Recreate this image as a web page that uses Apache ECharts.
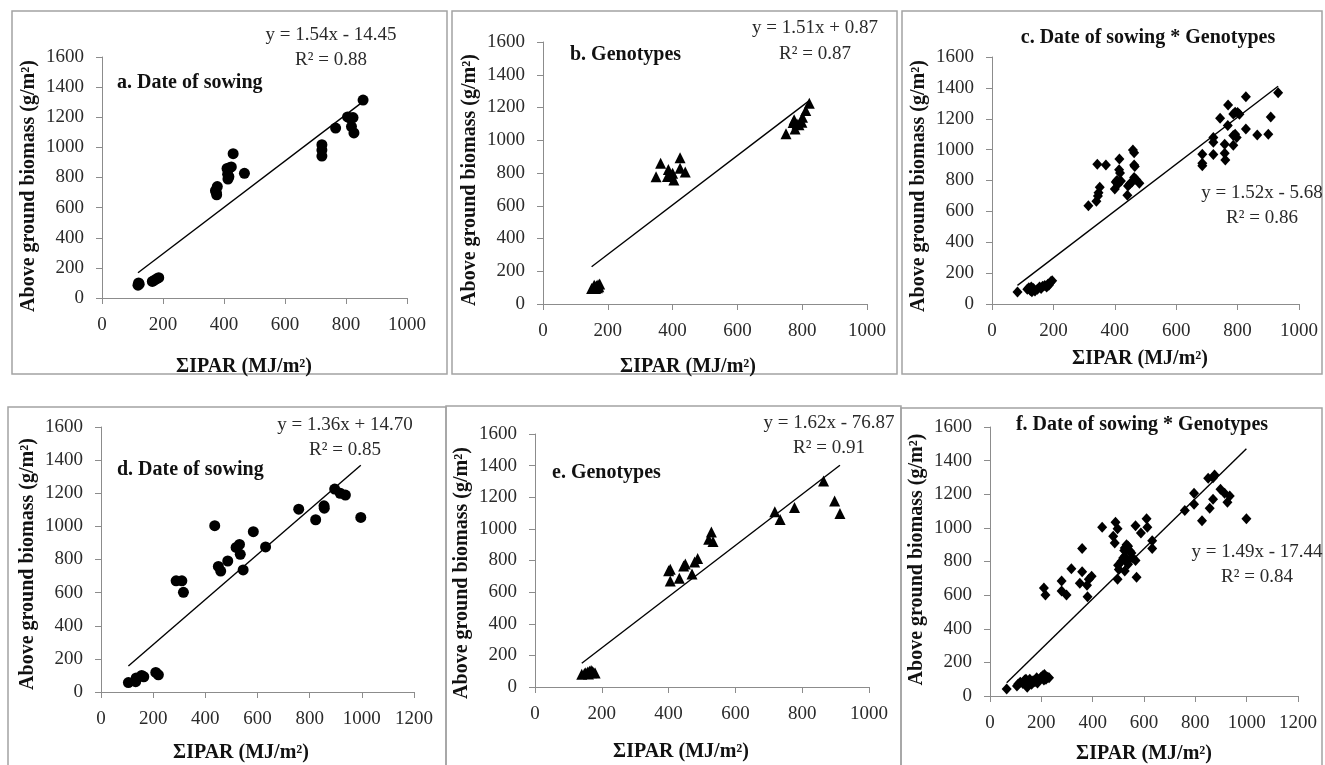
<!DOCTYPE html>
<html><head><meta charset="utf-8">
<script src="https://cdn.jsdelivr.net/npm/echarts@6/dist/echarts.min.js"></script>
<style>html,body{margin:0;padding:0;background:#fff}#c{width:1325px;height:765px}</style>
</head><body><div id="c"></div>
<script>
// ---------- DATA ----------
const yTickValues = [0, 200, 400, 600, 800, 1000, 1200, 1400, 1600];
const xMaxes = [1000, 1000, 1000, 1200, 1000, 1200];
const panelTitles = ['a. Date of sowing', 'b. Genotypes', 'c. Date of sowing * Genotypes',
                     'd. Date of sowing', 'e. Genotypes', 'f. Date of sowing * Genotypes'];
const trendSlopes = [1.54, 1.51, 1.52, 1.36, 1.62, 1.49];
const trendIntercepts = [-14.45, 0.87, -5.68, 14.70, -76.87, -17.44];
const equationLabels = ['y = 1.54x - 14.45', 'y = 1.51x + 0.87', 'y = 1.52x - 5.68',
                        'y = 1.36x + 14.70', 'y = 1.62x - 76.87', 'y = 1.49x - 17.44'];
const r2Labels = ['R² = 0.88', 'R² = 0.87', 'R² = 0.86', 'R² = 0.85', 'R² = 0.91', 'R² = 0.84'];
const xAxisTitle = 'ΣIPAR (MJ/m²)';
const yAxisTitle = 'Above ground biomass (g/m²)';

const panelAPoints = [
  [118,85],[120,100],[122,92],[165,110],[172,118],[180,128],[186,135],
  [372,712],[376,685],[378,740],[375,700],
  [410,860],[412,822],[413,790],[416,805],[424,870],[418,865],
  [430,958],[467,828],
  [721,1018],[721,982],[721,942],
  [766,1128],
  [805,1202],[812,1196],[823,1198],[818,1138],[826,1096],
  [856,1314]
];
const panelBPoints = [
  [150,95],[155,100],[160,108],[165,112],[170,118],[175,122],[158,115],[168,100],[162,95],[172,105],
  [349,777],[363,860],[387,822],[384,778],[400,798],[404,757],[423,893],[423,829],[439,806],[395,790],
  [750,1040],[775,1125],[778,1068],[784,1100],[790,1095],[799,1110],[801,1140],[811,1182],[822,1226],[772,1108]
];
const panelCPoints = [
  [83,78],[115,95],[120,105],[125,88],[130,80],[135,100],[140,85],[148,95],[155,110],[160,100],
  [165,115],[172,120],[178,110],[182,128],[188,135],[192,145],[196,150],[128,110],[185,122],
  [314,637],[340,665],[345,700],[347,720],[351,757],[343,905],[371,900],[400,745],[403,790],[407,800],
  [415,940],[414,870],[417,848],[420,797],[441,705],[443,765],[450,780],[456,790],[459,998],[463,980],
  [463,900],[465,890],[463,820],[470,805],[480,782],[410,775],
  [685,970],[685,911],[685,896],[721,1078],[721,1048],[721,968],[743,1203],[758,1035],[758,976],[760,933],
  [768,1156],[769,1289],[786,1230],[792,1242],[800,1240],[806,1229],[786,1091],[792,1100],[797,1078],[786,1028],
  [827,1343],[827,1134],[864,1095],[900,1099],[908,1212],[932,1368]
];
const panelDPoints = [
  [105,57],[133,62],[135,85],[156,100],[164,92],[210,118],[220,104],
  [288,671],[310,671],[316,602],
  [436,1004],[450,758],[459,730],[486,791],[518,873],[531,891],[534,831],[545,737],[584,968],[631,876],
  [758,1104],[823,1040],[855,1124],[856,1110],[896,1225],[917,1200],[937,1189],[996,1054]
];
const panelEPoints = [
  [140,80],[148,85],[152,90],[158,95],[163,100],[168,105],[172,98],[176,92],[180,88],[160,82],[170,90],
  [400,735],[405,745],[405,670],[432,688],[445,765],[450,778],[470,715],[478,790],[487,812],
  [520,935],[528,980],[533,920],
  [718,1108],[734,1060],[777,1135],[864,1302],[897,1177],[913,1097]
];
const panelFPoints = [
  [65,42],[105,60],[110,72],[118,82],[128,75],[135,95],[145,52],[150,80],[155,100],[162,70],
  [168,90],[175,85],[182,108],[190,95],[198,110],[205,120],[212,128],[218,100],[225,112],[230,108],
  [210,95],[148,72],[140,100],[185,78],
  [210,642],[216,601],[279,684],[279,625],[298,601],[317,757],[359,877],[359,739],[350,670],[380,591],
  [378,658],[385,695],[396,713],
  [437,1003],[480,950],[486,910],[489,1034],[497,995],[497,694],[499,778],[502,753],[523,865],[532,900],
  [538,890],[525,831],[532,802],[525,743],[538,783],[551,851],[554,822],[567,806],[567,1013],[571,707],
  [588,969],[610,1054],[613,1003],[632,924],[632,877],[512,802],[519,821],[545,862],[525,880],
  [759,1103],[795,1206],[795,1141],[826,1042],[850,1295],[869,1298],[875,1314],[856,1117],[869,1170],
  [898,1229],[914,1206],[934,1190],[925,1152],[999,1054]
];
const panelPoints = [panelAPoints, panelBPoints, panelCPoints, panelDPoints, panelEPoints, panelFPoints];

// ---------- LAYOUT / STYLE ----------
const SERIF = '"Liberation Serif","Times New Roman",serif';
const symbols = ['circle', 'triangle', 'diamond', 'circle', 'triangle', 'diamond'];
const symbolSizes = [11, 11, [10, 11], 11, 11, [10, 11]];
const grids = [
  {left: 102, top: 57, width: 305, height: 241},
  {left: 543, top: 42, width: 324, height: 262},
  {left: 992, top: 57, width: 307, height: 247},
  {left: 101, top: 427, width: 313, height: 265},
  {left: 535, top: 434, width: 334, height: 253},
  {left: 990, top: 427, width: 308, height: 270}
];
const xNameGaps = [59, 53, 45, 51, 55, 48];
const xNamePadRight = [21, 34, 11, 33, 42, 0];
const yNamePads = [[0,17,0,0],[0,14,0,0],[0,11,0,0],[0,9,0,0],[0,25,0,0],[0,0,0,4]];
const titlePos = [[117, 83], [570, 55], [1148, 38], [117, 470], [552, 473], [1142, 425]];
const titleAlign = ['left', 'left', 'center', 'left', 'left', 'center'];
const eqPos = [[331, 35, 60], [815, 28, 54], [1262, 193, 218], [345, 425, 450], [829, 423, 448], [1257, 552, 577]];
const borders = [
  [12, 11, 435, 363], [452, 11, 445, 363], [902, 11, 420, 363],
  [8, 407, 438, 370], [446, 406, 455, 370], [901, 408, 421, 370]
];

const axisColor = '#8c8c8c';
const plainNumber = v => String(v);
const xAxes = [], yAxes = [], series = [], graphics = [];
panelPoints.forEach((pts, i) => {
  xAxes.push({
    gridIndex: i, type: 'value', min: 0, max: xMaxes[i], interval: 200,
    name: xAxisTitle, nameLocation: 'middle', nameGap: xNameGaps[i],
    nameTextStyle: {fontFamily: SERIF, fontSize: 20, fontWeight: 'bold', color: '#111', padding: [0, xNamePadRight[i], 0, 0]},
    axisLine: {show: true, onZero: false, lineStyle: {color: axisColor, width: 1}},
    axisTick: {show: true, inside: false, length: 6, lineStyle: {color: axisColor}},
    axisLabel: {fontFamily: SERIF, fontSize: 19, color: '#2a2a2a', margin: 18, formatter: plainNumber},
    splitLine: {show: false}
  });
  yAxes.push({
    gridIndex: i, type: 'value', min: yTickValues[0], max: yTickValues[yTickValues.length - 1], interval: 200,
    name: yAxisTitle, nameLocation: 'middle', nameGap: 63,
    nameTextStyle: {fontFamily: SERIF, fontSize: 20, fontWeight: 'bold', color: '#111', padding: yNamePads[i]},
    axisLine: {show: true, onZero: false, lineStyle: {color: axisColor, width: 1}},
    axisTick: {show: true, inside: false, length: 6, lineStyle: {color: axisColor}},
    axisLabel: {fontFamily: SERIF, fontSize: 19, color: '#2a2a2a', margin: 18, formatter: plainNumber},
    splitLine: {show: false}
  });
  series.push({
    type: 'scatter', xAxisIndex: i, yAxisIndex: i, data: pts,
    symbol: symbols[i], symbolSize: symbolSizes[i],
    itemStyle: {color: '#000', opacity: 1}, z: 3
  });
  const xs = pts.map(p => p[0]);
  const x0 = Math.min(...xs), x1 = Math.max(...xs);
  series.push({
    type: 'line', xAxisIndex: i, yAxisIndex: i,
    data: [[x0, trendSlopes[i] * x0 + trendIntercepts[i]], [x1, trendSlopes[i] * x1 + trendIntercepts[i]]],
    showSymbol: false, symbol: 'none', silent: true,
    lineStyle: {color: '#000', width: 1.4}, z: 2
  });
  const b = borders[i];
  graphics.push({type: 'rect', shape: {x: b[0], y: b[1], width: b[2], height: b[3]},
    style: {fill: 'none', stroke: '#a3a3a3', lineWidth: 1.5}, silent: true, z: 0});
  graphics.push({type: 'text', x: titlePos[i][0], y: titlePos[i][1],
    style: {text: panelTitles[i], font: 'bold 20px ' + SERIF, fill: '#111', align: titleAlign[i], verticalAlign: 'middle'}});
  graphics.push({type: 'text', x: eqPos[i][0], y: eqPos[i][1],
    style: {text: equationLabels[i], font: '19px ' + SERIF, fill: '#2a2a2a', align: 'center', verticalAlign: 'middle'}});
  graphics.push({type: 'text', x: eqPos[i][0], y: eqPos[i][2],
    style: {text: r2Labels[i], font: '19px ' + SERIF, fill: '#2a2a2a', align: 'center', verticalAlign: 'middle'}});
});

const chart = echarts.init(document.getElementById('c'));
chart.setOption({
  animation: false,
  backgroundColor: '#fff',
  grid: grids.map(g => Object.assign({containLabel: false}, g)),
  xAxis: xAxes,
  yAxis: yAxes,
  series: series,
  graphic: graphics
});
</script>
</body></html>
